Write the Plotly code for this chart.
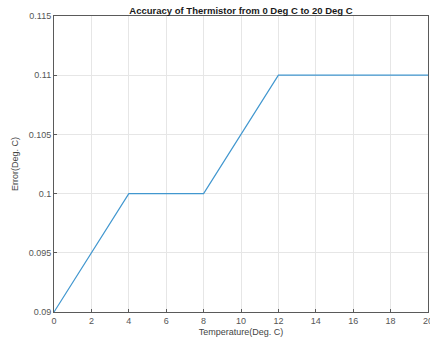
import plotly.graph_objects as go

temps = [0, 4, 8, 12, 20]
errors = [0.09, 0.10, 0.10, 0.11, 0.11]
x_ticks = [0, 2, 4, 6, 8, 10, 12, 14, 16, 18, 20]
y_ticks = [0.09, 0.095, 0.1, 0.105, 0.11, 0.115]
y_tick_text = ["0.09", "0.095", "0.1", "0.105", "0.11", "0.115"]

FONT = "Liberation Sans, Arial"

fig = go.Figure()
fig.add_trace(go.Scatter(x=temps, y=errors, mode="lines",
                         line=dict(color="#4197cf", width=1.2), showlegend=False))

axis_common = dict(showline=True, linecolor="#5a5a5a", linewidth=1, mirror=True,
                   ticks="inside", ticklen=3, tickcolor="#5a5a5a",
                   showgrid=True, gridcolor="#e6e6e6", gridwidth=1, zeroline=False,
                   ticklabeloverflow="allow", automargin=False,
                   tickfont=dict(family=FONT, size=9, color="#555555"))

fig.update_layout(
    width=430, height=341,
    margin=dict(l=54, r=2, t=16, b=29, autoexpand=False),
    paper_bgcolor="white", plot_bgcolor="white",
    title=dict(text="<b>Accuracy of Thermistor from 0 Deg C to 20 Deg C</b>",
               xref="paper", x=0.5, xanchor="center",
               yref="container", y=0.970, yanchor="middle", automargin=False,
               font=dict(family=FONT, size=9.5, color="#1a1a1a")),
    xaxis=dict(range=[0, 20], tickvals=x_ticks,
               title=dict(text="Temperature(Deg. C)", standoff=3,
                          font=dict(family=FONT, size=9, color="#444444")),
               **axis_common),
    yaxis=dict(range=[0.09, 0.115], tickvals=y_ticks, ticktext=y_tick_text,
               title=dict(text="Error(Deg. C)", standoff=8,
                          font=dict(family=FONT, size=9, color="#444444")),
               **axis_common),
)

fig.write_html("out.html", config={"displayModeBar": False},
               post_script="document.body.style.margin='0';")
